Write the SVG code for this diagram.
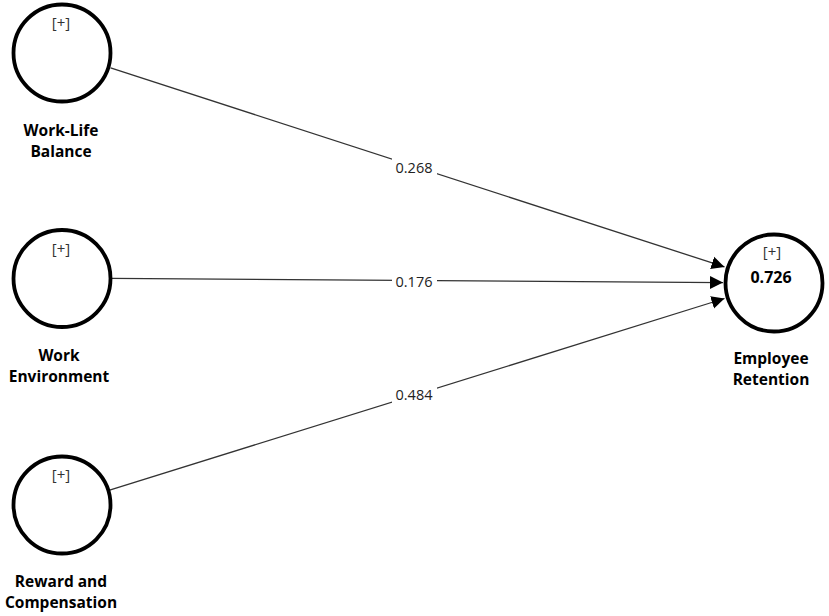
<svg xmlns="http://www.w3.org/2000/svg" width="829" height="616" viewBox="0 0 829 616">
<defs>
<marker id="arr" markerUnits="userSpaceOnUse" markerWidth="14" markerHeight="14" viewBox="0 0 14 14" refX="13" refY="7" orient="auto">
<path d="M0,0.5 L13,7 L0,13.5 Z" fill="#000"/>
</marker>
<style>
.c{fill:#fff;stroke:#000;stroke-width:3.8}
.p{font-family:"Open Sans","Liberation Sans",sans-serif;font-size:15px;fill:#333;text-anchor:middle}
.n{font-family:"Open Sans","Liberation Sans",sans-serif;font-size:15.5px;font-weight:bold;fill:#000;text-anchor:middle}
.v{font-family:"Open Sans","Liberation Sans",sans-serif;font-size:16px;font-weight:bold;fill:#000;text-anchor:middle}
.e{stroke:#333;stroke-width:1.3;fill:none;marker-end:url(#arr)}
.l{font-family:"Open Sans","Liberation Sans",sans-serif;font-size:14.5px;fill:#222;text-anchor:middle}
</style>
</defs>
<g id="connectors">
<line class="e" x1="110.6" y1="67.9" x2="724.5" y2="266.9"/>
<line class="e" x1="111" y1="278.3" x2="723" y2="282.6"/>
<line class="e" x1="108.8" y1="490.4" x2="724.5" y2="298.5"/>
<rect x="392" y="158" width="45" height="19" fill="#fff"/>
<text class="l" x="414" y="173">0.268</text>
<rect x="392" y="272" width="45" height="19" fill="#fff"/>
<text class="l" x="414" y="287">0.176</text>
<rect x="392" y="385" width="45" height="19" fill="#fff"/>
<text class="l" x="414" y="400">0.484</text>
</g>
<g id="wlb">
<circle class="c" cx="62" cy="53" r="48.5"/>
<text class="p" x="61" y="28">[+]</text>
<text class="n" x="61" y="136">Work-Life</text>
<text class="n" x="61" y="157">Balance</text>
</g>
<g id="we">
<circle class="c" cx="62" cy="278.5" r="48.5"/>
<text class="p" x="61" y="254">[+]</text>
<text class="n" x="59" y="361">Work</text>
<text class="n" x="59" y="382">Environment</text>
</g>
<g id="rc">
<circle class="c" cx="62" cy="505" r="48.5"/>
<text class="p" x="61" y="480">[+]</text>
<text class="n" x="61" y="587">Reward and</text>
<text class="n" x="61" y="608">Compensation</text>
</g>
<g id="er">
<circle class="c" cx="774" cy="283" r="48.5"/>
<text class="p" x="772" y="257">[+]</text>
<text class="v" x="771" y="283">0.726</text>
<text class="n" x="771" y="364">Employee</text>
<text class="n" x="771" y="385">Retention</text>
</g>
</svg>
